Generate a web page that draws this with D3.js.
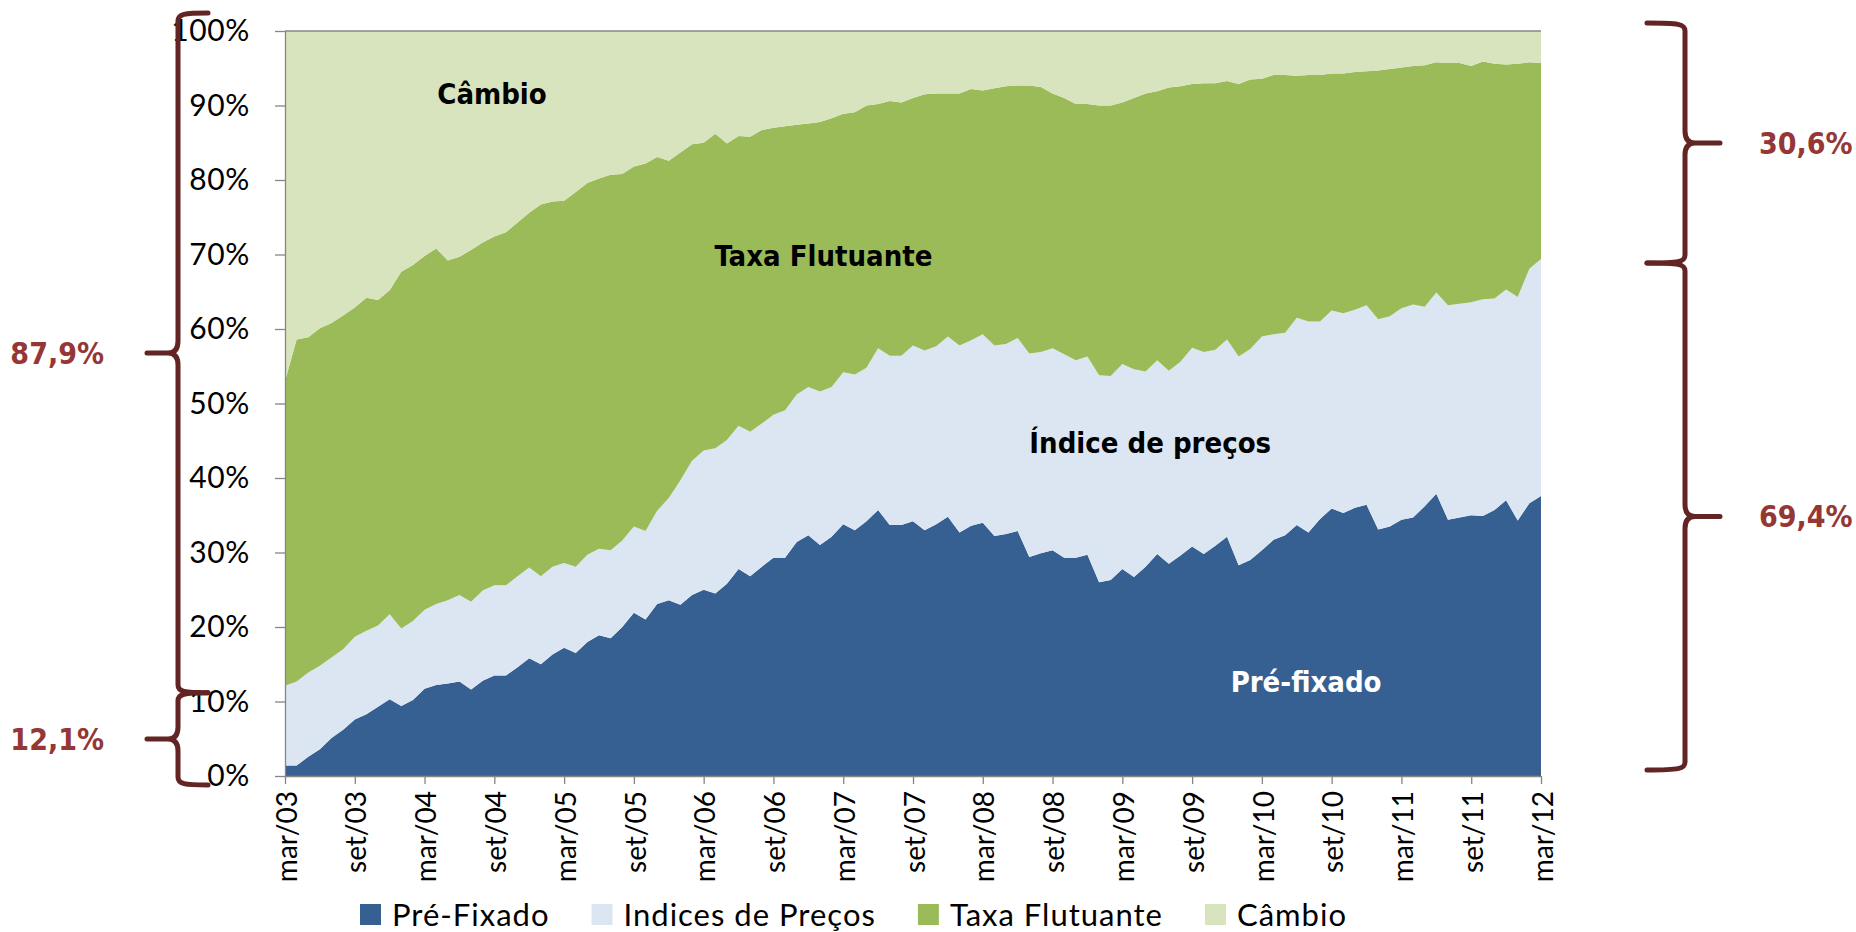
<!DOCTYPE html>
<html>
<head>
<meta charset="utf-8">
<script src="https://cdn.jsdelivr.net/npm/d3@7"></script>
<style>
  body { margin: 0; background: #fff; }
  svg { display: block; }
</style>
</head>
<body>
<svg id="chart" width="1856" height="932"></svg>
<script>
// series shares (% of total), monthly from mar/03 to mar/12
const seriesNames = ["Pré-Fixado", "Indices de Preços", "Taxa Flutuante", "Câmbio"];
const seriesColors = ["#376092", "#dce6f2", "#9bbb59", "#d7e4bd"];

const preFixado = [1.4,1.4,2.6,3.6,5.1,6.2,7.6,8.3,9.3,10.3, 9.4,10.2,11.7,12.2,12.4,12.7,11.6,12.8,13.5,13.5,
  14.6,15.8,15.0,16.3,17.2,16.5,18.0,18.9,18.5,20.0, 21.9,21.0,23.1,23.6,23.0,24.3,25.0,24.5,25.8,27.8,
  26.8,28.1,29.3,29.3,31.4,32.3,31.0,32.1,33.8,33.0, 34.2,35.7,33.7,33.7,34.2,33.0,33.8,34.8,32.7,33.6,
  34.0,32.2,32.5,32.9,29.4,29.9,30.3,29.3,29.3,29.7, 26.0,26.3,27.8,26.7,28.1,29.8,28.5,29.6,30.8,29.8,
  30.9,32.1,28.3,29.0,30.3,31.7,32.3,33.7,32.7,34.5, 35.9,35.3,36.0,36.4,33.1,33.5,34.4,34.7,36.2,37.9,
  34.4,34.7,35.0,34.9,35.7,37.0,34.3,36.6,37.6];

const indicesPrecos = [10.7,11.3,11.3,11.2,10.8,10.8,11.1,11.2,10.9,11.4, 10.4,10.6,10.6,10.9,11.2,11.6,11.8,12.1,12.1,12.1,
  12.2,12.2,11.8,11.8,11.4,11.6,11.7,11.6,11.8,11.6, 11.6,11.9,12.5,13.7,16.7,18.0,18.7,19.5,19.3,19.2,
  19.4,19.2,19.2,19.8,19.8,19.9,20.6,20.1,20.4,20.9, 20.6,21.7,22.7,22.7,23.6,24.1,23.9,24.2,25.1,24.9,
  25.3,25.6,25.5,25.9,27.3,27.0,27.1,27.3,26.5,26.6, 27.8,27.4,27.5,27.9,26.2,26.0,25.9,26.0,26.7,27.1,
  26.3,26.5,28.0,28.3,28.7,27.6,27.2,27.8,28.3,26.5, 26.6,26.8,26.6,26.8,28.2,28.2,28.4,28.6,26.8,27.0,
  28.8,28.7,28.6,29.1,28.4,28.3,30.0,31.5,31.8];

const taxaFlutuante = [40.9,45.9,45.0,45.3,44.9,44.8,44.2,44.7,43.7,43.5, 47.9,47.8,47.5,47.7,45.6,45.4,47.2,46.7,46.8,47.4,
  47.5,47.6,49.9,49.0,48.6,50.3,49.9,49.7,50.4,49.2, 48.3,49.3,47.5,45.3,44.0,42.5,41.3,42.2,39.8,38.9,
  39.6,39.4,38.5,38.1,36.2,35.4,36.2,36.1,34.7,35.2, 35.2,32.8,34.2,34.0,33.2,34.4,33.9,32.6,33.8,33.7,
  32.7,34.5,34.6,33.9,36.0,35.6,34.2,34.4,34.4,33.9, 36.2,36.3,35.1,36.4,37.3,36.1,38.0,37.0,35.4,36.1,
  35.8,34.7,36.6,36.2,34.6,34.8,34.6,32.5,33.1,33.1, 31.8,32.2,31.9,31.4,33.4,33.2,32.3,32.0,32.4,30.9,
  32.5,32.3,31.7,31.9,31.5,30.2,31.3,27.7,26.3];

const cambio = [47.0,41.4,41.1,39.9,39.2,38.2,37.1,35.8,36.1,34.8, 32.3,31.4,30.2,29.2,30.8,30.3,29.4,28.4,27.6,27.0,
  25.7,24.4,23.3,22.9,22.8,21.6,20.4,19.8,19.3,19.2, 18.2,17.8,16.9,17.4,16.3,15.2,15.0,13.8,15.1,14.1,
  14.2,13.3,13.0,12.8,12.6,12.4,12.2,11.7,11.1,10.9, 10.0,9.8,9.4,9.6,9.0,8.5,8.4,8.4,8.4,7.8,
  8.0,7.7,7.4,7.3,7.3,7.5,8.4,9.0,9.8,9.8, 10.0,10.0,9.6,9.0,8.4,8.1,7.6,7.4,7.1,7.0,
  7.0,6.7,7.1,6.5,6.4,5.9,5.9,6.0,5.9,5.9, 5.7,5.7,5.5,5.4,5.3,5.1,4.9,4.7,4.6,4.2,
  4.3,4.3,4.7,4.1,4.4,4.5,4.4,4.2,4.3];

const tickLabels = ["mar/03","set/03","mar/04","set/04","mar/05","set/05","mar/06","set/06","mar/07","set/07",
  "mar/08","set/08","mar/09","set/09","mar/10","set/10","mar/11","set/11","mar/12"];
const yTicks = [0, 10, 20, 30, 40, 50, 60, 70, 80, 90, 100];

// labels written inside the areas: [text, month index, % position, colour]
const areaLabels = [
  ["Câmbio", 17.8, 90.2, "#000"],
  ["Taxa Flutuante", 46.3, 68.5, "#000"],
  ["Índice de preços", 74.4, 43.4, "#000"],
  ["Pré-fixado", 87.8, 11.3, "#fff"]
];

// brace annotations: [label, from %, to %, side]
const braceShares = [
  ["87,9%", 100, 12.1, "left"],
  ["12,1%", 12.1, 0, "left"],
  ["30,6%", 100, 69.4, "right"],
  ["69,4%", 69.4, 0, "right"]
];

const svg = d3.select("#chart");
const width = 1856, height = 932;
const margin = { top: 31, right: 315, bottom: 156, left: 285 };

const x = d3.scaleLinear()
  .domain([0, preFixado.length - 1])
  .range([margin.left, width - margin.right]);

const y = d3.scaleLinear()
  .domain([0, 100])
  .range([height - margin.bottom, margin.top]);

const table = preFixado.map((v, i) => ({
  i,
  "Pré-Fixado": v,
  "Indices de Preços": indicesPrecos[i],
  "Taxa Flutuante": taxaFlutuante[i],
  "Câmbio": cambio[i]
}));

const layers = d3.stack().keys(seriesNames)(table);
const color = d3.scaleOrdinal().domain(seriesNames).range(seriesColors);

const area = d3.area()
  .x(d => x(d.data.i))
  .y0(d => y(d[0]))
  .y1(d => y(d[1]));

svg.append("g")
  .selectAll("path")
  .data(layers)
  .join("path")
  .attr("d", area)
  .attr("fill", d => color(d.key));

const axisColor = "#868686";
const tickFont = "Lato, 'Open Sans', sans-serif";

// top border of plot area
svg.append("line")
  .attr("x1", x.range()[0]).attr("x2", x.range()[1])
  .attr("y1", y(100)).attr("y2", y(100))
  .attr("stroke", axisColor).attr("stroke-width", 1.3);

// Y axis
const yAxis = svg.append("g")
  .attr("transform", `translate(${margin.left},0)`)
  .call(d3.axisLeft(y).tickValues(yTicks).tickSize(10).tickSizeOuter(0).tickPadding(25).tickFormat(d => d + "%"));
yAxis.selectAll("path, line").attr("stroke", axisColor).attr("stroke-width", 1.3);
yAxis.selectAll("text")
  .attr("font-family", tickFont)
  .attr("font-size", 30)
  .attr("letter-spacing", 0.6)
  .attr("fill", "#000");

// X axis
const tickIdx = tickLabels.map((t, k) => k * 6);
const xAxis = svg.append("g")
  .attr("transform", `translate(0,${y(0)})`)
  .call(d3.axisBottom(x).tickValues(tickIdx).tickSize(8).tickSizeOuter(0).tickFormat((d, k) => tickLabels[k]));
xAxis.selectAll("path, line").attr("stroke", axisColor).attr("stroke-width", 1.3);
xAxis.selectAll("text")
  .attr("font-family", tickFont)
  .attr("font-size", 28)
  .attr("fill", "#000")
  .attr("transform", "rotate(-90)")
  .attr("text-anchor", "end")
  .attr("x", -15)
  .attr("y", 0)
  .attr("dy", "0.4em");

// labels inside areas
const boldFont = "'DejaVu Sans Condensed', 'DejaVu Sans', sans-serif";
svg.append("g")
  .selectAll("text")
  .data(areaLabels)
  .join("text")
  .attr("x", d => x(d[1]))
  .attr("y", d => y(d[2]))
  .attr("text-anchor", "middle")
  .attr("font-family", boldFont)
  .attr("font-stretch", "condensed")
  .attr("font-weight", "bold")
  .attr("font-size", 29)
  .attr("fill", d => d[3])
  .text(d => d[0]);

// curly braces
function bracePath(endX, spineX, tipX, y0, y1) {
  const ym = (y0 + y1) / 2;
  const s = Math.sign(endX - spineX);
  const r = 8, t = 12;
  return `M${endX},${y0} C${spineX + s * 6},${y0} ${spineX},${y0 + 1} ${spineX},${y0 + r}` +
    ` L${spineX},${ym - t} Q${spineX},${ym} ${spineX - s * 10},${ym} L${tipX},${ym}` +
    ` M${spineX - s * 10},${ym} Q${spineX},${ym} ${spineX},${ym + t}` +
    ` L${spineX},${y1 - r} C${spineX},${y1 - 1} ${spineX + s * 6},${y1} ${endX},${y1}`;
}

const braceColor = "#632523";
const braceLabelColor = "#953735";
const braceG = svg.append("g");
braceShares.forEach(([label, from, to, side]) => {
  let y0 = y(from), y1 = y(to);
  if (side === "left") {
    y0 += from === 100 ? -18 : 7;
    y1 += to === 0 ? 9 : 7;
  } else {
    y0 += from === 100 ? -8 : 4;
    y1 += to === 0 ? -6 : 4;
  }
  const geo = side === "left"
    ? { end: 208, spine: 178, tip: 147 }
    : { end: 1647, spine: 1685, tip: 1720 };
  braceG.append("path")
    .attr("d", bracePath(geo.end, geo.spine, geo.tip, y0, y1))
    .attr("fill", "none")
    .attr("stroke", braceColor)
    .attr("stroke-width", 5)
    .attr("stroke-linecap", "round")
    .attr("stroke-linejoin", "round");
  braceG.append("text")
    .attr("x", side === "left" ? 104 : 1759)
    .attr("y", (y0 + y1) / 2)
    .attr("dy", "0.36em")
    .attr("text-anchor", side === "left" ? "end" : "start")
    .attr("font-family", boldFont)
    .attr("font-stretch", "condensed")
    .attr("font-weight", "bold")
    .attr("font-size", 30)
    .attr("fill", braceLabelColor)
    .text(label);
});

// legend
const legend = svg.append("g")
  .attr("transform", `translate(360, 904)`);
let lx = 0;
seriesNames.forEach((name, i) => {
  const g = legend.append("g").attr("transform", `translate(${lx},0)`);
  g.append("rect")
    .attr("width", 21)
    .attr("height", 21)
    .attr("fill", color(name));
  const txt = g.append("text")
    .attr("x", 32)
    .attr("y", 22)
    .attr("font-family", tickFont)
    .attr("font-size", 31)
    .attr("letter-spacing", 1)
    .attr("fill", "#000")
    .text(name);
  lx += 32 + txt.node().getComputedTextLength() + 42;
});
</script>
</body>
</html>
